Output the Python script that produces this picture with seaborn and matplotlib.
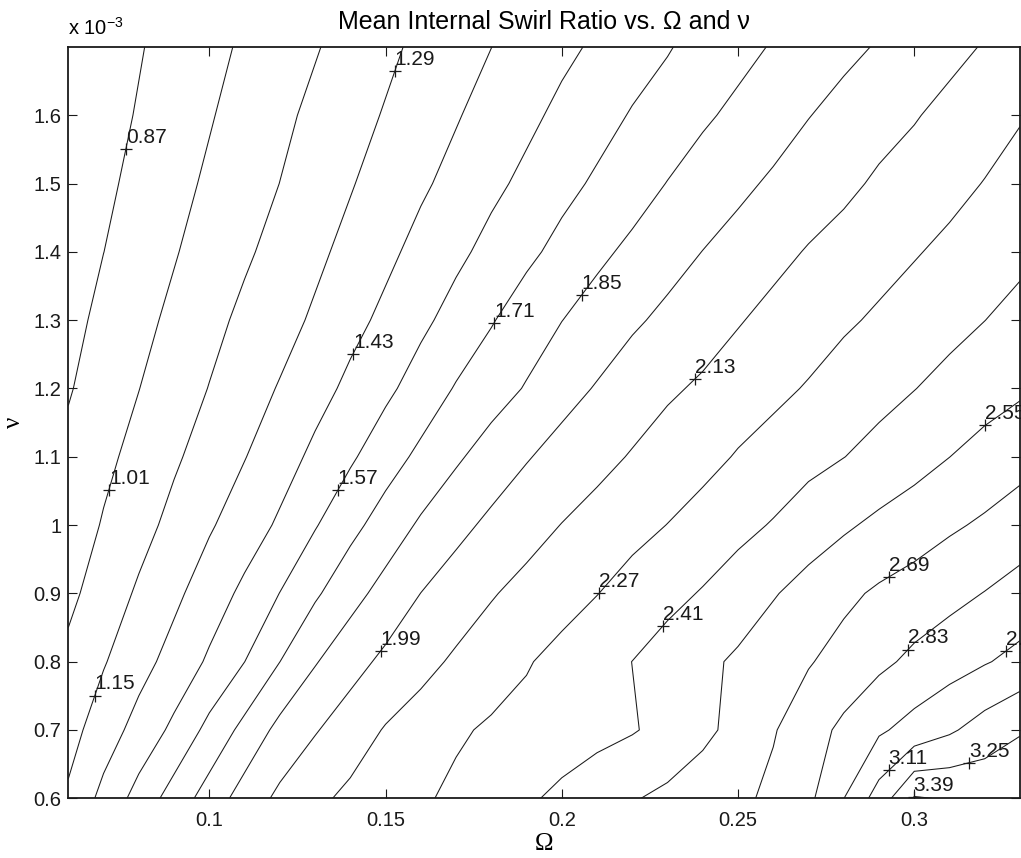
import numpy as np
import matplotlib
matplotlib.use("Agg")
import matplotlib.pyplot as plt
import seaborn as sns
from matplotlib.ticker import FuncFormatter

# grid of the swirl-ratio field
omega = [0.06, 0.07, 0.08, 0.09, 0.10, 0.11, 0.12, 0.13, 0.14, 0.15,
         0.16, 0.17, 0.18, 0.19, 0.20, 0.21, 0.22, 0.23, 0.24, 0.25,
         0.26, 0.27, 0.28, 0.29, 0.30, 0.31, 0.32, 0.33]
nu = [0.6, 0.7, 0.8, 0.9, 1.0, 1.1, 1.2, 1.3, 1.4, 1.5, 1.6, 1.7]  # x 1e-3

swirl_nu060 = [1.17, 1.33, 1.48, 1.63, 1.77, 1.91, 2.02, 2.10, 2.16, 2.20, 2.25, 2.30, 2.35, 2.39,
               2.44, 2.49, 2.54, 2.58, 2.62, 2.66, 2.72, 2.80, 2.968, 3.17, 3.40, 3.38, 3.36, 3.35]
swirl_nu070 = [1.10, 1.22, 1.34, 1.46, 1.61, 1.75, 1.89, 1.98, 2.06, 2.14, 2.19, 2.25, 2.29, 2.31,
               2.34, 2.37, 2.40, 2.45, 2.52, 2.59, 2.68, 2.77, 2.86, 2.95, 3.02, 3.09, 3.17, 3.24]
swirl_nu080 = [1.04, 1.14, 1.24, 1.34, 1.45, 1.569, 1.709, 1.84, 1.94, 2.02, 2.09, 2.15, 2.20, 2.26,
               2.31, 2.36, 2.411, 2.47, 2.52, 2.57, 2.63, 2.68, 2.74, 2.80, 2.86, 2.91, 2.96, 3.01]
swirl_nu090 = [0.98, 1.07, 1.17, 1.26, 1.36, 1.46, 1.572, 1.69, 1.80, 1.90, 1.991, 2.06, 2.12, 2.17,
               2.22, 2.267, 2.32, 2.37, 2.42, 2.48, 2.54, 2.60, 2.66, 2.71, 2.75, 2.79, 2.834, 2.88]
swirl_nu100 = [0.935, 1.02, 1.10, 1.19, 1.275, 1.36, 1.45, 1.56, 1.67, 1.77, 1.87, 1.95, 2.02, 2.08,
               2.133, 2.18, 2.23, 2.272, 2.32, 2.37, 2.42, 2.48, 2.53, 2.58, 2.62, 2.67, 2.71, 2.76]
swirl_nu110 = [0.90, 0.98, 1.05, 1.13, 1.21, 1.285, 1.37, 1.46, 1.55, 1.65, 1.74, 1.83, 1.91, 1.98,
               2.04, 2.09, 2.14, 2.19, 2.23, 2.28, 2.32, 2.37, 2.408, 2.45, 2.50, 2.549, 2.60, 2.64]
swirl_nu120 = [0.86, 0.93, 1.008, 1.08, 1.154, 1.23, 1.299, 1.38, 1.46, 1.54, 1.63, 1.72, 1.79, 1.86,
               1.94, 2.00, 2.06, 2.11, 2.15, 2.20, 2.24, 2.28, 2.33, 2.37, 2.407, 2.45, 2.49, 2.53]
swirl_nu130 = [0.82, 0.91, 0.97, 1.04, 1.11, 1.18, 1.24, 1.31, 1.39, 1.46, 1.54, 1.62, 1.70, 1.78,
               1.848, 1.91, 1.97, 2.02, 2.07, 2.12, 2.17, 2.21, 2.25, 2.29, 2.33, 2.37, 2.409, 2.45]
swirl_nu140 = [0.80, 0.869, 0.94, 1.00, 1.07, 1.13, 1.195, 1.26, 1.33, 1.40, 1.47, 1.54, 1.61, 1.68,
               1.75, 1.82, 1.88, 1.94, 1.992, 2.04, 2.09, 2.14, 2.18, 2.22, 2.26, 2.30, 2.34, 2.38]
swirl_nu150 = [0.78, 0.84, 0.91, 0.97, 1.03, 1.09, 1.151, 1.22, 1.28, 1.35, 1.41, 1.47, 1.54, 1.60,
               1.67, 1.73, 1.79, 1.854, 1.91, 1.96, 2.01, 2.055, 2.10, 2.15, 2.19, 2.23, 2.275, 2.32]
swirl_nu160 = [0.76, 0.82, 0.88, 0.94, 1.00, 1.06, 1.12, 1.18, 1.24, 1.30, 1.36, 1.42, 1.48, 1.54,
               1.60, 1.66, 1.72, 1.77, 1.83, 1.88, 1.93, 1.986, 2.03, 2.08, 2.12, 2.17, 2.21, 2.26]
swirl_nu170 = [0.75, 0.80, 0.86, 0.92, 0.97, 1.03, 1.09, 1.14, 1.20, 1.26, 1.32, 1.38, 1.429, 1.48,
               1.54, 1.59, 1.65, 1.70, 1.76, 1.81, 1.86, 1.91, 1.96, 2.00, 2.05, 2.09, 2.14, 2.18]

levels = [0.87, 1.01, 1.15, 1.29, 1.43, 1.57, 1.71, 1.85, 1.99, 2.13,
          2.27, 2.41, 2.55, 2.69, 2.83, 2.97, 3.11, 3.25, 3.39]
# where each clabel "+" sits in the reference
label_omega = [0.0764, 0.0719, 0.0678, 0.1527, 0.1409, 0.1364, 0.1804, 0.2052, 0.1473, 0.2373,
               0.2104, 0.2293, 0.3203, 0.2922, 0.2978, 0.3262, 0.2931, 0.3152, 0.3000]
label_nu = [1.550, 1.051, 0.750, 1.664, 1.250, 1.051, 1.297, 1.339, 0.821, 1.216,
            0.901, 0.849, 1.145, 0.930, 0.820, 0.813, 0.639, 0.661, 0.601]

sns.set_theme(style="ticks")
plt.rcParams['font.family'] = ['Liberation Sans', 'DejaVu Sans']
plt.rcParams['mathtext.fontset'] = 'custom'
plt.rcParams['mathtext.rm'] = 'Liberation Sans'
plt.rcParams['mathtext.it'] = 'Liberation Sans:italic'
plt.rcParams['text.color'] = 'black'
plt.rcParams['axes.labelcolor'] = 'black'
plt.rcParams['xtick.color'] = 'black'
plt.rcParams['ytick.color'] = 'black'

Z = np.vstack([swirl_nu060, swirl_nu070, swirl_nu080, swirl_nu090, swirl_nu100, swirl_nu110,
               swirl_nu120, swirl_nu130, swirl_nu140, swirl_nu150, swirl_nu160, swirl_nu170])

fig = plt.figure(figsize=(10.21, 8.58), dpi=100)
ax = fig.add_axes([0.0669, 0.0696, 0.9321, 0.8757])
cs = ax.contour(omega, nu, Z, levels=levels, colors='k', linewidths=0.75)

ax.set_xlim(0.06, 0.33)
ax.set_ylim(0.6, 1.7)

# put each label marker on the nearest point of its own contour line
sx = 952 / 0.27
sy = 751 / 1.1


def snap(i, x0, y0):
    best, bd = (x0, y0), np.inf
    for seg in cs.allsegs[i]:
        for (xa, ya), (xb, yb) in zip(seg[:-1], seg[1:]):
            ax_, ay_ = xa * sx, ya * sy
            dx, dy = xb * sx - ax_, yb * sy - ay_
            L = dx * dx + dy * dy
            t = 0.0 if L == 0 else ((x0 * sx - ax_) * dx + (y0 * sy - ay_) * dy) / L
            t = min(max(t, 0.0), 1.0)
            px, py = ax_ + t * dx, ay_ + t * dy
            d = (px - x0 * sx) ** 2 + (py - y0 * sy) ** 2
            if d < bd:
                bd, best = d, (px / sx, py / sy)
    return best


for i, lev in enumerate(levels):
    px, py = snap(i, label_omega[i], label_nu[i])
    ax.plot(px, py, marker='+', color='k', markersize=9, markeredgewidth=0.9)
    ax.annotate(f"{lev:.2f}", xy=(px, py), xytext=(0, 1.5), textcoords='offset points',
                ha='left', va='bottom', fontsize=15, color='k')

ax.set_xticks([0.1, 0.15, 0.2, 0.25, 0.3])
ax.set_yticks([0.6, 0.7, 0.8, 0.9, 1.0, 1.1, 1.2, 1.3, 1.4, 1.5, 1.6])
fmt = FuncFormatter(lambda v, p: f"{v:g}")
ax.xaxis.set_major_formatter(fmt)
ax.yaxis.set_major_formatter(fmt)
ax.tick_params(direction='in', top=True, right=True, length=6.5, width=0.8,
               labelsize=14.5, colors='k')
ax.tick_params(axis='x', pad=9)
ax.tick_params(axis='y', pad=5)
for sp in ax.spines.values():
    sp.set_linewidth(1.3)
    sp.set_color('k')

ax.annotate(r"x 10$^{-3}$", xy=(0, 1), xycoords='axes fraction', xytext=(0, 6),
            textcoords='offset points', ha='left', va='bottom', fontsize=14.5)
ax.set_title("Mean Internal Swirl Ratio vs. Ω and ν", fontsize=18, pad=13, color='black')
ax.set_xlabel("Ω", fontsize=18, family=['Liberation Serif', 'DejaVu Serif'], labelpad=2)
ax.set_ylabel("ν", fontsize=18, family=['Liberation Serif', 'DejaVu Serif'], labelpad=6)

fig.savefig("out.png", dpi=100, facecolor='white')
